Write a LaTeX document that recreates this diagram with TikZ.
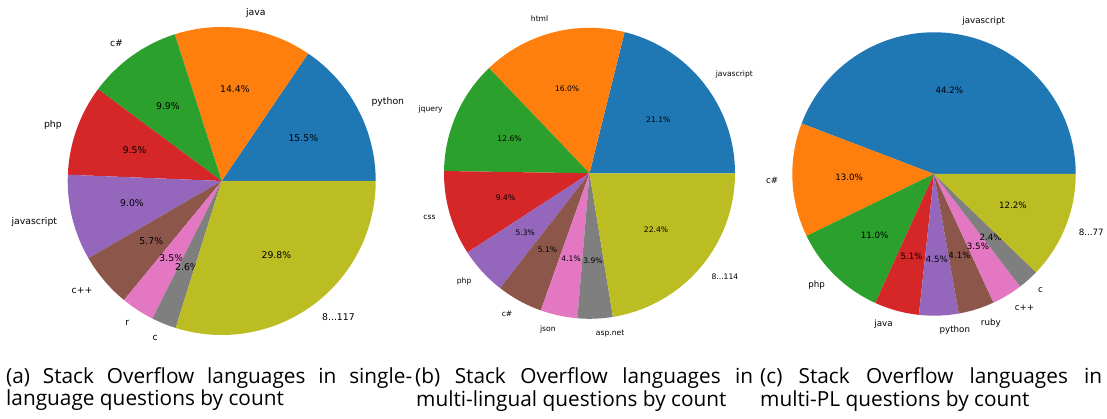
\documentclass[tikz,border=0pt]{standalone}
\usepackage{fontspec}
\newfontfamily\dv{DejaVu Sans}
\newfontfamily\capfont{Open Sans}
\definecolor{c0}{HTML}{1F77B4}
\definecolor{c1}{HTML}{FF7F0E}
\definecolor{c2}{HTML}{2CA02C}
\definecolor{c3}{HTML}{D62728}
\definecolor{c4}{HTML}{9467BD}
\definecolor{c5}{HTML}{8C564B}
\definecolor{c6}{HTML}{E377C2}
\definecolor{c7}{HTML}{7F7F7F}
\definecolor{c8}{HTML}{BCBD22}
\newcommand{\threedots}{...}
% #1 cx, #2 cy, #3 radius (pt), #4 font size, #5 total, #6 name prefix, #7 list
\newcommand{\mypie}[7]{%
  \begin{scope}[shift={(#1,#2)}, font={\dv\fontsize{#4}{#4}\selectfont}]
    \gdef\cum{0}%
    \foreach \p/\lab/\col [count=\i] in {#7} {
      \pgfmathsetmacro\nxt{\cum+360*\p/#5}
      \pgfmathsetmacro\mid{(\cum+\nxt)/2}
      \pgfmathsetmacro\cosm{cos(\mid)}
      \ifdim\cosm pt>0pt \def\anc{west}\else\def\anc{east}\fi
      \fill[\col] (0,0) -- (\cum:#3pt) arc[start angle=\cum, end angle=\nxt, radius=#3pt] -- cycle;
      \node[pietext, anchor=\anc] (#6-lab-\i) at (\mid:1.1*#3pt) {\lab};
      \node[pietext, anchor=center] (#6-pct-\i) at (\mid:0.6*#3pt) {\p\%};
      \global\let\cum\nxt
    }
  \end{scope}}
\tikzset{
  pietext/.style={inner sep=0pt, text=black},
  captext/.style={inner sep=0pt, anchor=base west, font={\capfont\fontsize{20.8}{22}\selectfont}}
}
\begin{document}
\begin{tikzpicture}[x=1pt, y=1pt]
  \useasboundingbox (0,0) rectangle (1107,419);
  \fill[white] (0,0) rectangle (1107,419);
  \mypie{221.7}{238}{154}{9.3}{99.9}{pa}{15.5/python/c0, 14.4/java/c1, 9.9/c\#/c2, 9.5/php/c3, 9.0/javascript/c4, 5.7/c++/c5, 3.5/r/c6, 2.6/c/c7, 29.8/8\threedots 117/c8}
  \mypie{589.5}{245.7}{145.5}{7.6}{99.9}{pb}{21.1/javascript/c0, 16.0/html/c1, 12.6/jquery/c2, 9.4/css/c3, 5.3/php/c4, 5.1/c\#/c5, 4.1/json/c6, 3.9/asp.net/c7, 22.4/8\threedots 114/c8}
  \mypie{934}{245}{141.7}{8.7}{100}{pc}{44.2/javascript/c0, 13.0/c\#/c1, 11.0/php/c2, 5.1/java/c3, 4.5/python/c4, 4.1/ruby/c5, 3.5/c++/c6, 2.4/c/c7, 12.2/8\threedots 77/c8}
  \node[captext] (capa1) at (6,35) {\makebox[406pt][s]{(a) Stack Overflow languages in single-}};
  \node[captext] (capa2) at (6,13.3) {language questions by count};
  \node[captext] (capb1) at (415,35) {\makebox[338pt][s]{(b) Stack Overflow languages in}};
  \node[captext] (capb2) at (416,12.5) {multi-lingual questions by count};
  \node[captext] (capc1) at (760,35) {\makebox[342pt][s]{(c) Stack Overflow languages in}};
  \node[captext] (capc2) at (760,12.8) {multi-PL questions by count};
\end{tikzpicture}
\end{document}
